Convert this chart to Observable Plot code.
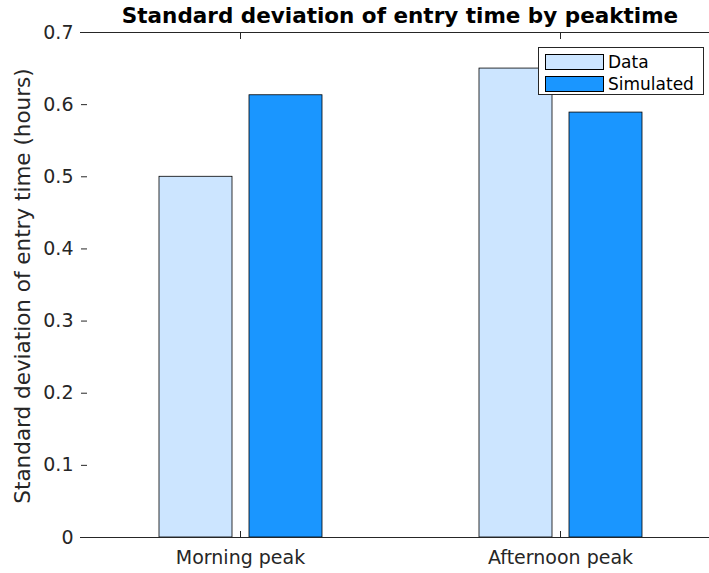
<!DOCTYPE html>
<html><head><meta charset="utf-8">
<script src="https://cdn.jsdelivr.net/npm/d3@7"></script>
<script src="https://cdn.jsdelivr.net/npm/@observablehq/plot@0.6"></script>
<style>
body{margin:0;background:#fff;}
#wrap{position:relative;width:709px;height:573px;overflow:hidden;font-family:"DejaVu Sans",sans-serif;color:#000;}
#title{position:absolute;left:0;width:800px;top:4px;text-align:center;font-weight:bold;font-size:21.5px;line-height:24px;}
#ylabel{position:absolute;left:22px;top:286px;transform:translate(-50%,-50%) rotate(-90deg);white-space:nowrap;font-size:21.5px;color:#262626;}
#legend{position:absolute;left:538px;top:47px;width:164px;height:46px;border:1px solid #262626;background:#fff;box-sizing:content-box;}
.item{position:absolute;left:6px;height:16px;display:flex;align-items:center;}
.sw{width:57px;height:14px;border:1px solid #000;box-sizing:content-box;}
.lt{margin-left:4px;font-size:17px;color:#000;}
#chart svg{position:absolute;left:0;top:0;}
</style></head>
<body>
<div id="wrap">
  <div id="chart"></div>
  <div id="title"></div>
  <div id="ylabel"></div>
  <div id="legend"></div>
</div>
<script>
const categories = ["Morning peak", "Afternoon peak"];
const series = ["Data", "Simulated"];
const dataValues = [0.5, 0.65];
const simulatedValues = [0.613, 0.589];
const yTicks = [0, 0.1, 0.2, 0.3, 0.4, 0.5, 0.6, 0.7];
const colors = ["#cce5ff", "#1a96ff"];
const titleText = "Standard deviation of entry time by peaktime";
const yLabelText = "Standard deviation of entry time (hours)";

const rows = categories.flatMap((c, i) => [
  {cat: c, series: series[0], value: dataValues[i]},
  {cat: c, series: series[1], value: simulatedValues[i]}
]);

const noText = () => "";

const chart = Plot.plot({
  width: 709, height: 573,
  marginLeft: 80, marginRight: 0, marginTop: 32, marginBottom: 36,
  style: {fontFamily: "DejaVu Sans", fontSize: "19px", color: "#262626", background: "transparent", overflow: "visible"},
  fx: {domain: categories, range: [80, 720], padding: 0, label: null},
  x: {domain: series, paddingInner: 0.19, paddingOuter: 0.87, axis: null},
  y: {domain: [0, 0.7], label: null},
  color: {domain: series, range: colors},
  marks: [
    Plot.barY(rows, {fx: "cat", x: "series", y: "value", fill: "series", stroke: "#000", strokeWidth: 0.8}),
    Plot.ruleY([0, 0.7], {stroke: "#262626", strokeWidth: 1}),
    Plot.axisY({ticks: yTicks, tickFormat: d => String(d), tickSize: 0, tickPadding: 7, line: true, label: null, stroke: "#262626"}),
    Plot.axisY({ticks: yTicks, anchor: "right", facetAnchor: "left-empty", tickSize: 6, dx: -320, tickFormat: noText, label: null, stroke: "#262626"}),
    Plot.axisFx({anchor: "bottom", tickSize: -6, tickPadding: 19, label: null, stroke: "#262626"}),
    Plot.axisFx({anchor: "top", tickSize: -6, tickFormat: noText, label: null, stroke: "#262626"})
  ]
});
document.getElementById("chart").appendChild(chart);
document.getElementById("title").textContent = titleText;
document.getElementById("ylabel").textContent = yLabelText;
const legend = document.getElementById("legend");
series.forEach((s, i) => {
  const it = document.createElement("div");
  it.className = "item";
  it.style.top = (6 + i * 22) + "px";
  const sw = document.createElement("div");
  sw.className = "sw";
  sw.style.background = colors[i];
  const lt = document.createElement("span");
  lt.className = "lt";
  lt.textContent = s;
  it.appendChild(sw); it.appendChild(lt);
  legend.appendChild(it);
});
</script>
</body></html>
